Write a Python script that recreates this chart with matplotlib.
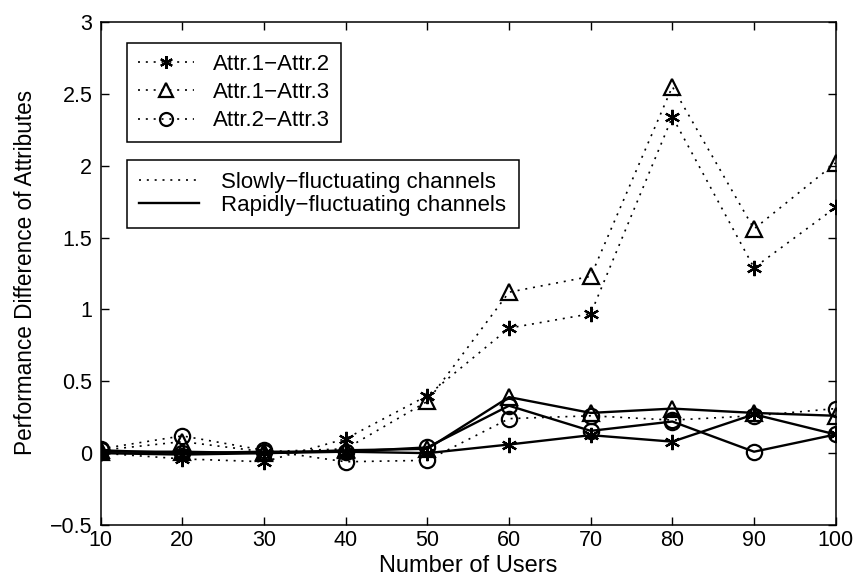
import matplotlib
matplotlib.use("Agg")
import matplotlib.pyplot as plt
from matplotlib.lines import Line2D

plt.rcParams['font.family'] = ['Liberation Sans', 'DejaVu Sans']

# ---- data ----
users = [10, 20, 30, 40, 50, 60, 70, 80, 90, 100]
slow_a12 = [0.00, -0.04, -0.06, 0.10, 0.40, 0.87, 0.97, 2.34, 1.29, 1.71]
slow_a13 = [0.02, 0.08, 0.01, 0.03, 0.36, 1.12, 1.23, 2.55, 1.56, 2.02]
slow_a23 = [0.03, 0.12, 0.02, -0.06, -0.05, 0.24, 0.26, 0.23, 0.26, 0.31]
rapid_a12 = [0.00, -0.01, 0.00, 0.01, 0.00, 0.06, 0.125, 0.08, 0.27, 0.13]
rapid_a13 = [0.01, 0.01, 0.00, 0.02, 0.03, 0.39, 0.28, 0.31, 0.28, 0.26]
rapid_a23 = [0.02, 0.00, 0.01, 0.01, 0.04, 0.33, 0.155, 0.22, 0.01, 0.13]

series_labels = ['Attr.1\u2212Attr.2', 'Attr.1\u2212Attr.3', 'Attr.2\u2212Attr.3']
channel_labels = ['Slowly\u2212fluctuating channels', 'Rapidly\u2212fluctuating channels']
xticks = [10, 20, 30, 40, 50, 60, 70, 80, 90, 100]
yticks = [-0.5, 0, 0.5, 1, 1.5, 2, 2.5, 3]
ytick_labels = ['\u22120.5', '0', '0.5', '1', '1.5', '2', '2.5', '3']
xlabel = 'Number of Users'
ylabel = 'Performance Difference of Attributes'

W, H = 855, 576
fig = plt.figure(figsize=(W / 100, H / 100), dpi=100)
ax = fig.add_axes([100.7 / W, 51 / H, 735 / W, 503 / H])

asterisk = (6, 2, 0)
markers = [asterisk, '^', 'o']
msizes = [11, 12, 11]
dotted = (0, (1.2, 3.5))

slow = [slow_a12, slow_a13, slow_a23]
rapid = [rapid_a12, rapid_a13, rapid_a23]

for ys, m, ms in zip(slow, markers, msizes):
    ax.plot(users, ys, linestyle=dotted, lw=1.2, color='black', marker=m,
            markersize=ms, mfc='none', mec='black', mew=1.6)
for ys, m, ms in zip(rapid, markers, msizes):
    ax.plot(users, ys, linestyle='-', lw=1.7, color='black', marker=m,
            markersize=ms, mfc='none', mec='black', mew=1.6)

ax.set_xlim(10, 100)
ax.set_ylim(-0.5, 3)
ax.set_xticks(xticks)
ax.set_xticklabels([str(v) for v in xticks])
ax.set_yticks(yticks)
ax.set_yticklabels(ytick_labels)
ax.tick_params(direction='in', length=6, width=1, top=True, right=True,
               labelsize=15.5, colors='black')
ax.tick_params(axis='x', pad=3.5)
ax.tick_params(axis='y', pad=6)
for s in ax.spines.values():
    s.set_linewidth(1.1)
    s.set_color('black')

fig.text(468 / W, 4 / H, xlabel, ha='center', va='baseline', fontsize=17)
fig.text(26 / W, 1 - 272 / H, ylabel, ha='center', va='center',
         rotation=90, fontsize=16.3)

# legend 1: attribute pairs
h1 = [Line2D([], [], linestyle=dotted, lw=1.2, color='black', marker=m,
             markersize=ms * 0.85, mfc='none', mec='black', mew=1.6)
      for m, ms in zip(markers, msizes)]
leg1 = ax.legend(h1, series_labels, loc='upper left',
                 bbox_to_anchor=(127 / W, 1 - 43 / H),
                 bbox_transform=fig.transFigure, borderaxespad=0,
                 fontsize=16, frameon=True, fancybox=False, framealpha=1,
                 edgecolor='black', handlelength=2.5, handletextpad=0.85,
                 labelspacing=0.32, borderpad=0.5, numpoints=1)
leg1.get_frame().set_linewidth(1.1)
ax.add_artist(leg1)

# legend 2: channel types
h2 = [Line2D([], [], linestyle=dotted, lw=1.2, color='black'),
      Line2D([], [], linestyle='-', lw=1.7, color='black')]
leg2 = ax.legend(h2, channel_labels, loc='upper left',
                 bbox_to_anchor=(127 / W, 1 - 160 / H),
                 bbox_transform=fig.transFigure, borderaxespad=0,
                 fontsize=16, frameon=True, fancybox=False, framealpha=1,
                 edgecolor='black', handlelength=2.7, handletextpad=1.0,
                 labelspacing=0.08, borderpad=0.55)
leg2.get_frame().set_linewidth(1.1)

fig.savefig('out.png', dpi=100)
